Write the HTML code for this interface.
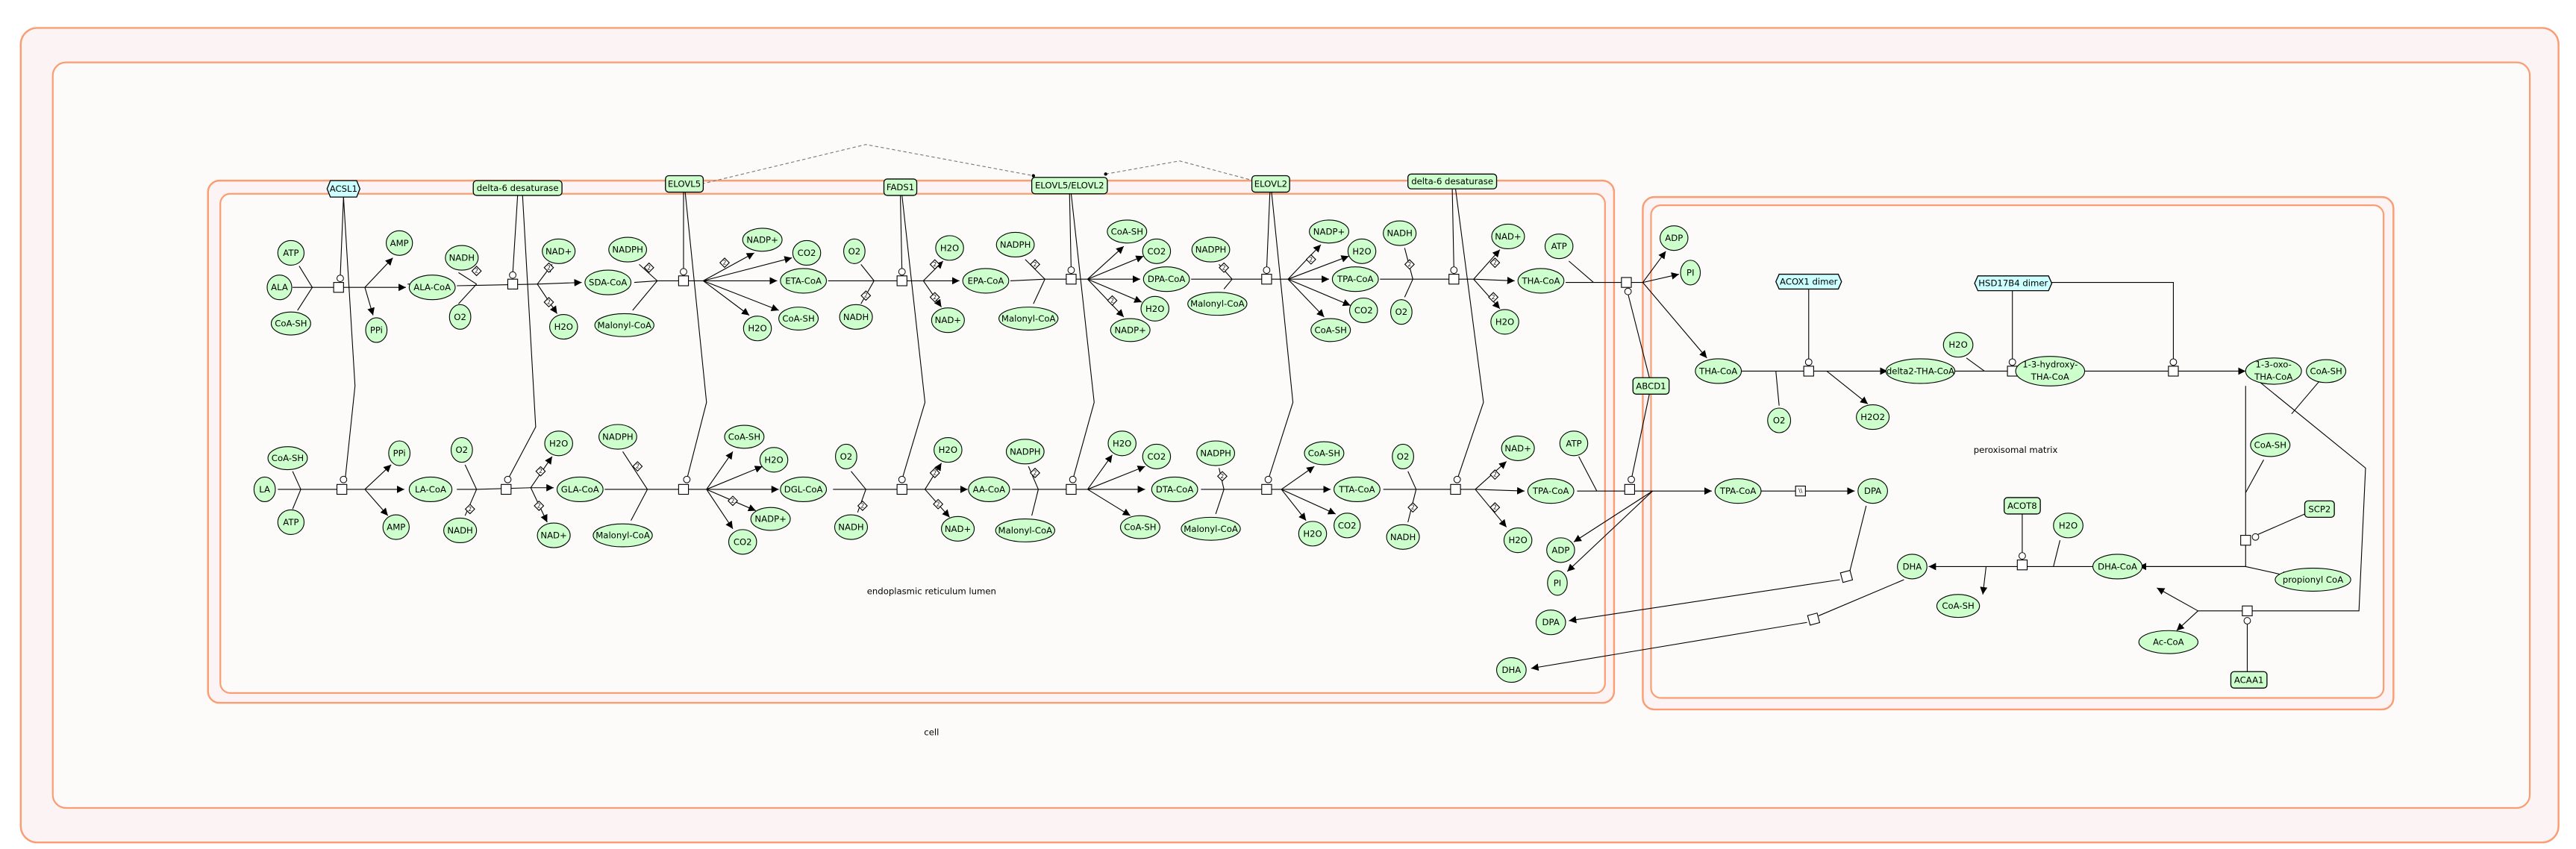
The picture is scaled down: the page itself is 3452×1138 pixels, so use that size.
<!DOCTYPE html>
<html><head><meta charset="utf-8"><style>
html,body{margin:0;padding:0;background:#fff}
svg{display:block}
text{font-family:"DejaVu Sans","Liberation Sans",sans-serif;font-size:5.3px;text-anchor:middle;dominant-baseline:central;fill:#000}
.m{fill:#ccffcc;stroke:#000;stroke-width:.5}
.e{fill:#ccffcc;stroke:#000;stroke-width:.6}
.c{fill:#ccffff;stroke:#000;stroke-width:.6}
.l{stroke:#000;stroke-width:.5;fill:none}
.a{stroke:#000;stroke-width:.5;fill:none;marker-end:url(#ar)}
.b{fill:#fff;stroke:#000;stroke-width:.5}
.o{fill:#fff;stroke:#000;stroke-width:.45}
.cp{fill:#fcf4f4;stroke:#fb9d72;stroke-width:1.1}
.ci{fill:#fdfafa;stroke:#fb9d72;stroke-width:1}
</style></head><body>
<svg width="3452" height="1138" viewBox="0 0 1568 517" xmlns="http://www.w3.org/2000/svg">
<defs><marker id="ar" viewBox="0 0 10 10" refX="10" refY="5" markerWidth="4.5" markerHeight="4.5" markerUnits="userSpaceOnUse" orient="auto"><path d="M0,0L10,5L0,10z" fill="#000"/></marker></defs>
<rect x="0" y="0" width="1568" height="517" fill="#fff"/>
<rect class="cp" x="12.5" y="17" width="1545" height="496" rx="10"/>
<rect class="ci" x="32" y="38" width="1508" height="454" rx="8"/>
<text x="567" y="446">cell</text>
<rect class="cp" x="126.5" y="110" width="856" height="318" rx="7"/>
<rect class="ci" x="134" y="118" width="843" height="304" rx="6"/>
<text x="567" y="360">endoplasmic reticulum lumen</text>
<rect class="cp" x="1000" y="120" width="457" height="312" rx="7"/>
<rect class="ci" x="1005" y="125" width="446" height="300" rx="6"/>
<text x="1227" y="274">peroxisomal matrix</text>

<polyline points="427,112 527,88 629,107" fill="none" stroke="#777" stroke-width=".5" stroke-dasharray="2,1.5"/>
<polyline points="673,106 718,98 763,110" fill="none" stroke="#777" stroke-width=".5" stroke-dasharray="2,1.5"/>
<circle cx="629" cy="107" r="1"/><circle cx="673" cy="106" r="1"/>

<g class="l">
<line x1="209" y1="120" x2="207" y2="169"/><polyline points="209,120 216,235 210,292"/>
<line x1="315" y1="119" x2="312" y2="167"/><polyline points="318,119 326,260 309,292"/>
<line x1="416" y1="117" x2="416" y2="166"/><polyline points="417,117 430,245 418,292"/>
<line x1="548" y1="119" x2="549" y2="166"/><polyline points="549,119 563,245 549,292"/>
<line x1="651" y1="118" x2="652" y2="165"/><polyline points="652,118 666,245 653,292"/>
<line x1="773" y1="117" x2="771" y2="164"/><polyline points="774,117 787,245 772,292"/>
<line x1="884" y1="115" x2="885" y2="164"/><polyline points="886,115 903,245 887,292"/>
<line x1="1004" y1="230" x2="991" y2="179"/><line x1="1004" y1="240" x2="993" y2="292"/>
<line x1="1101" y1="176" x2="1101" y2="220"/>
<line x1="1225" y1="177" x2="1225" y2="220"/><polyline points="1249,172 1323,172 1323,220"/>
<line x1="1231" y1="313" x2="1231" y2="338"/>
<line x1="1403" y1="313" x2="1371" y2="327"/>
<line x1="1368" y1="409" x2="1368" y2="378"/>
</g>

<g class="l">
<line x1="182" y1="162" x2="190" y2="175"/><line x1="181" y1="189" x2="190" y2="175"/><line x1="178" y1="175" x2="222" y2="175"/>
<line x1="248" y1="173" x2="259" y2="173"/>
<line x1="279" y1="166" x2="290" y2="173"/><line x1="279" y1="185" x2="290" y2="173"/><line x1="278" y1="174" x2="327" y2="173"/>
<line x1="386" y1="172" x2="400" y2="171"/><line x1="389" y1="161" x2="400" y2="171"/><line x1="385" y1="189" x2="400" y2="171"/><line x1="400" y1="171" x2="428" y2="171"/>
<line x1="504" y1="171" x2="532" y2="171"/><line x1="524" y1="161" x2="532" y2="171"/><line x1="524" y1="185" x2="532" y2="171"/><line x1="532" y1="171" x2="562" y2="171"/>
<line x1="615" y1="171" x2="636" y2="170"/><line x1="624" y1="158" x2="636" y2="170"/><line x1="629" y1="185" x2="636" y2="170"/><line x1="636" y1="170" x2="662" y2="170"/>
<line x1="725" y1="170" x2="750" y2="170"/><line x1="742" y1="161" x2="750" y2="170"/><line x1="745" y1="176" x2="750" y2="170"/><line x1="750" y1="170" x2="784" y2="170"/>
<line x1="840" y1="170" x2="860" y2="170"/><line x1="855" y1="151" x2="860" y2="170"/><line x1="855" y1="181" x2="860" y2="170"/><line x1="860" y1="170" x2="897" y2="170"/>
<line x1="953" y1="172" x2="1000" y2="172"/><line x1="955" y1="159" x2="970" y2="172"/>
</g>
<g class="a">
<line x1="222" y1="175" x2="247" y2="175"/><line x1="222" y1="175" x2="239" y2="157"/><line x1="222" y1="175" x2="227" y2="192"/>
<line x1="327" y1="173" x2="354" y2="172"/><line x1="327" y1="173" x2="336" y2="161"/><line x1="327" y1="173" x2="339" y2="191"/>
<line x1="428" y1="171" x2="473" y2="171"/><line x1="428" y1="171" x2="459" y2="154"/><line x1="428" y1="171" x2="482" y2="157"/><line x1="428" y1="171" x2="474" y2="189"/><line x1="428" y1="171" x2="456" y2="192"/>
<line x1="562" y1="171" x2="584" y2="171"/><line x1="562" y1="171" x2="574" y2="159"/><line x1="562" y1="171" x2="573" y2="187"/>
<line x1="662" y1="170" x2="694" y2="170"/><line x1="662" y1="170" x2="684" y2="150"/><line x1="662" y1="170" x2="696" y2="156"/><line x1="662" y1="170" x2="695" y2="184"/><line x1="662" y1="170" x2="684" y2="193"/>
<line x1="784" y1="170" x2="809" y2="170"/><line x1="784" y1="170" x2="804" y2="149"/><line x1="784" y1="170" x2="821" y2="156"/><line x1="784" y1="170" x2="822" y2="186"/><line x1="784" y1="170" x2="806" y2="193"/>
<line x1="897" y1="170" x2="922" y2="171"/><line x1="897" y1="170" x2="913" y2="152"/><line x1="897" y1="170" x2="913" y2="188"/>
<line x1="1000" y1="172" x2="1014" y2="153"/><line x1="1000" y1="172" x2="1022" y2="167"/><line x1="1000" y1="172" x2="1039" y2="218"/>
</g>

<g class="l">
<line x1="169" y1="298" x2="222" y2="298"/><line x1="178" y1="287" x2="183" y2="298"/><line x1="178" y1="310" x2="183" y2="298"/>
<line x1="278" y1="298" x2="290" y2="298"/><line x1="283" y1="283" x2="290" y2="298"/><line x1="283" y1="314" x2="290" y2="298"/><line x1="290" y1="298" x2="323" y2="297"/>
<line x1="368" y1="298" x2="394" y2="298"/><line x1="379" y1="275" x2="394" y2="298"/><line x1="384" y1="317" x2="394" y2="298"/><line x1="394" y1="298" x2="430" y2="298"/>
<line x1="507" y1="298" x2="527" y2="298"/><line x1="518" y1="287" x2="527" y2="298"/><line x1="522" y1="312" x2="527" y2="298"/><line x1="527" y1="298" x2="563" y2="298"/>
<line x1="616" y1="298" x2="632" y2="298"/><line x1="626" y1="284" x2="632" y2="298"/><line x1="628" y1="314" x2="632" y2="298"/><line x1="632" y1="298" x2="662" y2="298"/>
<line x1="731" y1="298" x2="745" y2="298"/><line x1="742" y1="285" x2="745" y2="298"/><line x1="740" y1="313" x2="745" y2="298"/><line x1="745" y1="298" x2="780" y2="298"/>
<line x1="842" y1="298" x2="862" y2="298"/><line x1="857" y1="287" x2="862" y2="298"/><line x1="857" y1="318" x2="862" y2="298"/><line x1="862" y1="298" x2="898" y2="298"/>
<line x1="960" y1="299" x2="1006" y2="299"/><line x1="961" y1="278" x2="972" y2="299"/>
</g>
<g class="a">
<line x1="222" y1="298" x2="246" y2="298"/><line x1="222" y1="298" x2="238" y2="283"/><line x1="222" y1="298" x2="236" y2="314"/>
<line x1="323" y1="297" x2="337" y2="297"/><line x1="323" y1="297" x2="336" y2="278"/><line x1="323" y1="297" x2="333" y2="318"/>
<line x1="430" y1="298" x2="474" y2="298"/><line x1="430" y1="298" x2="446" y2="275"/><line x1="430" y1="298" x2="464" y2="284"/><line x1="430" y1="298" x2="460" y2="311"/><line x1="430" y1="298" x2="446" y2="322"/>
<line x1="563" y1="298" x2="589" y2="298"/><line x1="563" y1="298" x2="573" y2="282"/><line x1="563" y1="298" x2="578" y2="315"/>
<line x1="662" y1="298" x2="697" y2="298"/><line x1="662" y1="298" x2="677" y2="277"/><line x1="662" y1="298" x2="697" y2="284"/><line x1="662" y1="298" x2="688" y2="314"/>
<line x1="780" y1="298" x2="810" y2="298"/><line x1="780" y1="298" x2="800" y2="284"/><line x1="780" y1="298" x2="813" y2="313"/><line x1="780" y1="298" x2="795" y2="317"/>
<line x1="898" y1="298" x2="928" y2="299"/><line x1="898" y1="298" x2="917" y2="281"/><line x1="898" y1="298" x2="917" y2="321"/>
<line x1="1006" y1="299" x2="1042" y2="299"/><line x1="1006" y1="299" x2="958" y2="330"/><line x1="1006" y1="299" x2="954" y2="348"/>
<line x1="1072" y1="299" x2="1129" y2="299"/>
<line x1="1120" y1="353" x2="955" y2="378"/><line x1="1100" y1="379" x2="932" y2="407"/>
</g>
<g class="l"><line x1="1136" y1="308" x2="1126" y2="348"/><line x1="1159" y1="353" x2="1107" y2="375"/></g>

<g class="l">
<line x1="1060" y1="226" x2="1112" y2="226"/><line x1="1081" y1="226" x2="1083" y2="247"/>
<line x1="1190" y1="226" x2="1208" y2="226"/><line x1="1197" y1="218" x2="1208" y2="226"/><line x1="1208" y1="226" x2="1230" y2="226"/>
<line x1="1269" y1="226" x2="1326" y2="226"/>
<line x1="1367" y1="235" x2="1367" y2="345"/><line x1="1378" y1="280" x2="1367" y2="300"/>
<polyline points="1376,233 1440,285 1436,372 1338,372"/><line x1="1412" y1="232" x2="1395" y2="252"/>
<line x1="1367" y1="345" x2="1300" y2="345"/>
<line x1="1276" y1="345" x2="1209" y2="345"/><line x1="1254" y1="329" x2="1250" y2="345"/>
</g>
<g class="a">
<line x1="1112" y1="226" x2="1149" y2="226"/><line x1="1112" y1="226" x2="1137" y2="246"/>
<line x1="1230" y1="226" x2="1227" y2="226" style="marker-end:none"/>
<line x1="1230" y1="226" x2="1227" y2="226" style="display:none"/>
<line x1="1232" y1="226" x2="1227" y2="226" style="display:none"/>
<line x1="1326" y1="226" x2="1367" y2="226"/>
<line x1="1367" y1="345" x2="1302" y2="345"/><line x1="1367" y1="345" x2="1394" y2="351"/>
<line x1="1338" y1="372" x2="1313" y2="358"/><line x1="1338" y1="372" x2="1325" y2="384"/>
<line x1="1209" y1="345" x2="1174" y2="345"/><line x1="1209" y1="345" x2="1207" y2="362"/>
</g>
<line class="a" x1="1232" y1="226" x2="1227" y2="226" style="display:none"/>
<line class="l" x1="1226" y1="226" x2="1236" y2="226"/>
<line class="a" x1="1236" y1="226" x2="1227.5" y2="226" style="display:none"/>
<line class="a" x1="1236" y1="226" x2="1226" y2="226" style="display:none"/>
<line class="a" x1="1236" y1="226" x2="1227" y2="226" style="display:none"/>
<line class="a" x1="1234" y1="226" x2="1227" y2="226" style="display:none"/>
<line class="a" x1="1231" y1="226" x2="1226" y2="226" style="display:none"/>

<g>
<rect class="b" x="203" y="172" width="6" height="6"/><circle class="o" cx="207" cy="169.5" r="2"/>
<rect class="b" x="309" y="170" width="6" height="6"/><circle class="o" cx="312" cy="167.5" r="2"/>
<rect class="b" x="413" y="168" width="6" height="6"/><circle class="o" cx="416" cy="165.5" r="2"/>
<rect class="b" x="546" y="168" width="6" height="6"/><circle class="o" cx="549" cy="165.5" r="2"/>
<rect class="b" x="649" y="167" width="6" height="6"/><circle class="o" cx="652" cy="164.5" r="2"/>
<rect class="b" x="768" y="167" width="6" height="6"/><circle class="o" cx="771" cy="164.5" r="2"/>
<rect class="b" x="882" y="167" width="6" height="6"/><circle class="o" cx="885" cy="164.5" r="2"/>
<rect class="b" x="987" y="169" width="6" height="6"/><circle class="o" cx="991" cy="177.5" r="2"/>
<rect class="b" x="205" y="295" width="6" height="6"/><circle class="o" cx="209" cy="292" r="2"/>
<rect class="b" x="305" y="295" width="6" height="6"/><circle class="o" cx="309" cy="292" r="2"/>
<rect class="b" x="413" y="295" width="6" height="6"/><circle class="o" cx="418" cy="292" r="2"/>
<rect class="b" x="546" y="295" width="6" height="6"/><circle class="o" cx="549" cy="292" r="2"/>
<rect class="b" x="649" y="295" width="6" height="6"/><circle class="o" cx="653" cy="292" r="2"/>
<rect class="b" x="768" y="295" width="6" height="6"/><circle class="o" cx="772" cy="292" r="2"/>
<rect class="b" x="883" y="295" width="6" height="6"/><circle class="o" cx="887" cy="292" r="2"/>
<rect class="b" x="989" y="295" width="6" height="6"/><circle class="o" cx="993" cy="292" r="2"/>
<rect class="b" x="1093" y="296" width="6" height="6"/><text x="1096" y="299" style="font-size:3.5px">\\</text>
<rect class="b" x="1121" y="348" width="6" height="6" transform="rotate(-15 1124 351)"/>
<rect class="b" x="1101" y="374" width="6" height="6" transform="rotate(-15 1104 377)"/>
<rect class="b" x="1098" y="223" width="6" height="6"/><circle class="o" cx="1101" cy="220.5" r="2"/>
<rect class="b" x="1222" y="223" width="6" height="6"/><circle class="o" cx="1225" cy="220.5" r="2"/>
<rect class="b" x="1320" y="223" width="6" height="6"/><circle class="o" cx="1323" cy="220.5" r="2"/>
<rect class="b" x="1228" y="341" width="6" height="6"/><circle class="o" cx="1231" cy="338.5" r="2"/>
<rect class="b" x="1364" y="326" width="6" height="6"/><circle class="o" cx="1373" cy="327" r="2"/>
<rect class="b" x="1365" y="369" width="6" height="6"/><circle class="o" cx="1368" cy="378" r="2"/>
</g>
<line class="a" x1="1236" y1="226" x2="1227" y2="226" style="display:none"/>
<line class="a" x1="1228" y1="226" x2="1227" y2="226" style="display:none"/>
<line class="a" x1="1228" y1="226" x2="1227" y2="226" style="display:none"/>
<line class="a" x1="1228" y1="226" x2="1227" y2="226" style="display:none"/>
<line class="a" x1="1228" y1="226" x2="1227" y2="226" style="display:none"/>
<line class="a" x1="1228" y1="226" x2="1228" y2="226" style="display:none"/>
<line class="a" x1="1228" y1="226" x2="1227" y2="226" style="display:none"/>
<line class="a" x1="1228" y1="226" x2="1227" y2="226" style="display:none"/>
<line class="a" x1="1228" y1="226" x2="1227" y2="226" style="display:none"/>
<line class="a" x1="1228" y1="226" x2="1227" y2="226" style="display:none"/>
<line class="a" x1="1228" y1="226" x2="1227" y2="226" style="display:none"/>
<line class="a" x1="1228" y1="226" x2="1227" y2="226" style="display:none"/>
<line class="a" x1="1228" y1="226" x2="1227" y2="226" style="display:none"/>
<line class="a" x1="1228" y1="226" x2="1227" y2="226" style="display:none"/>
<line class="a" x1="1228" y1="226" x2="1227" y2="226" style="display:none"/>
<line class="a" x1="1228" y1="226" x2="1227" y2="226" style="display:none"/>
<line class="a" x1="1228" y1="226" x2="1227" y2="226" style="display:none"/>
<line class="a" x1="1228" y1="226" x2="1262" y2="226"/>

<g>
<g transform="translate(290,165) rotate(45)"><rect class="b" x="-2" y="-2" width="4" height="4"/></g><text x="290" y="165" style="font-size:3.4px">2</text>
<g transform="translate(334,163) rotate(45)"><rect class="b" x="-2" y="-2" width="4" height="4"/></g><text x="334" y="163" style="font-size:3.4px">2</text>
<g transform="translate(334,184) rotate(45)"><rect class="b" x="-2" y="-2" width="4" height="4"/></g><text x="334" y="184" style="font-size:3.4px">2</text>
<g transform="translate(395,163) rotate(45)"><rect class="b" x="-2" y="-2" width="4" height="4"/></g><text x="395" y="163" style="font-size:3.4px">2</text>
<g transform="translate(441,160) rotate(45)"><rect class="b" x="-2" y="-2" width="4" height="4"/></g><text x="441" y="160" style="font-size:3.4px">2</text>
<g transform="translate(527,180) rotate(45)"><rect class="b" x="-2" y="-2" width="4" height="4"/></g><text x="527" y="180" style="font-size:3.4px">2</text>
<g transform="translate(569,161) rotate(45)"><rect class="b" x="-2" y="-2" width="4" height="4"/></g><text x="569" y="161" style="font-size:3.4px">2</text>
<g transform="translate(569,181) rotate(45)"><rect class="b" x="-2" y="-2" width="4" height="4"/></g><text x="569" y="181" style="font-size:3.4px">2</text>
<g transform="translate(630,161) rotate(45)"><rect class="b" x="-2" y="-2" width="4" height="4"/></g><text x="630" y="161" style="font-size:3.4px">2</text>
<g transform="translate(677,183) rotate(45)"><rect class="b" x="-2" y="-2" width="4" height="4"/></g><text x="677" y="183" style="font-size:3.4px">2</text>
<g transform="translate(745,163) rotate(45)"><rect class="b" x="-2" y="-2" width="4" height="4"/></g><text x="745" y="163" style="font-size:3.4px">2</text>
<g transform="translate(798,158) rotate(45)"><rect class="b" x="-2" y="-2" width="4" height="4"/></g><text x="798" y="158" style="font-size:3.4px">2</text>
<g transform="translate(858,161) rotate(45)"><rect class="b" x="-2" y="-2" width="4" height="4"/></g><text x="858" y="161" style="font-size:3.4px">2</text>
<g transform="translate(910,160) rotate(45)"><rect class="b" x="-2" y="-2" width="4" height="4"/></g><text x="910" y="160" style="font-size:3.4px">2</text>
<g transform="translate(909,181) rotate(45)"><rect class="b" x="-2" y="-2" width="4" height="4"/></g><text x="909" y="181" style="font-size:3.4px">2</text>
<g transform="translate(286,310) rotate(45)"><rect class="b" x="-2" y="-2" width="4" height="4"/></g><text x="286" y="310" style="font-size:3.4px">2</text>
<g transform="translate(329,287) rotate(45)"><rect class="b" x="-2" y="-2" width="4" height="4"/></g><text x="329" y="287" style="font-size:3.4px">2</text>
<g transform="translate(328,308) rotate(45)"><rect class="b" x="-2" y="-2" width="4" height="4"/></g><text x="328" y="308" style="font-size:3.4px">2</text>
<g transform="translate(388,284) rotate(45)"><rect class="b" x="-2" y="-2" width="4" height="4"/></g><text x="388" y="284" style="font-size:3.4px">2</text>
<g transform="translate(446,305) rotate(45)"><rect class="b" x="-2" y="-2" width="4" height="4"/></g><text x="446" y="305" style="font-size:3.4px">2</text>
<g transform="translate(525,308) rotate(45)"><rect class="b" x="-2" y="-2" width="4" height="4"/></g><text x="525" y="308" style="font-size:3.4px">2</text>
<g transform="translate(569,288) rotate(45)"><rect class="b" x="-2" y="-2" width="4" height="4"/></g><text x="569" y="288" style="font-size:3.4px">2</text>
<g transform="translate(571,307) rotate(45)"><rect class="b" x="-2" y="-2" width="4" height="4"/></g><text x="571" y="307" style="font-size:3.4px">2</text>
<g transform="translate(630,288) rotate(45)"><rect class="b" x="-2" y="-2" width="4" height="4"/></g><text x="630" y="288" style="font-size:3.4px">2</text>
<g transform="translate(744,290) rotate(45)"><rect class="b" x="-2" y="-2" width="4" height="4"/></g><text x="744" y="290" style="font-size:3.4px">2</text>
<g transform="translate(860,309) rotate(45)"><rect class="b" x="-2" y="-2" width="4" height="4"/></g><text x="860" y="309" style="font-size:3.4px">2</text>
<g transform="translate(910,289) rotate(45)"><rect class="b" x="-2" y="-2" width="4" height="4"/></g><text x="910" y="289" style="font-size:3.4px">2</text>
<g transform="translate(910,309) rotate(45)"><rect class="b" x="-2" y="-2" width="4" height="4"/></g><text x="910" y="309" style="font-size:3.4px">2</text>
</g>

<polygon class="c" points="201,110 217,110 219,115 217,120 201,120 199,115"/><text x="209" y="115">ACSL1</text>
<rect class="e" x="288" y="110" width="54" height="9" rx="2"/><text x="315" y="114.5">delta-6 desaturase</text>
<rect class="e" x="405" y="107" width="23" height="10" rx="2"/><text x="416.5" y="112">ELOVL5</text>
<rect class="e" x="538" y="109" width="20" height="10" rx="2"/><text x="548" y="114">FADS1</text>
<rect class="e" x="628" y="108" width="46" height="10" rx="2"/><text x="651" y="113">ELOVL5/ELOVL2</text>
<rect class="e" x="762" y="107" width="23" height="10" rx="2"/><text x="773.5" y="112">ELOVL2</text>
<rect class="e" x="857" y="106" width="54" height="9" rx="2"/><text x="884" y="110.5">delta-6 desaturase</text>
<rect class="e" x="994" y="230" width="22" height="10" rx="2"/><text x="1005" y="235">ABCD1</text>
<polygon class="c" points="1083,167 1119,167 1121,171.5 1119,176 1083,176 1081,171.5"/><text x="1101" y="171.5">ACOX1 dimer</text>
<polygon class="c" points="1204,168 1247,168 1249,172.5 1247,177 1204,177 1202,172.5"/><text x="1225.5" y="172.5">HSD17B4 dimer</text>
<rect class="e" x="1220" y="303" width="22" height="10" rx="2"/><text x="1231" y="308">ACOT8</text>
<rect class="e" x="1403" y="305" width="18" height="10" rx="2"/><text x="1412" y="310">SCP2</text>
<rect class="e" x="1358" y="409" width="22" height="10" rx="2"/><text x="1369" y="414">ACAA1</text>

<g>
<ellipse class="m" cx="177" cy="154" rx="8" ry="7.5"/><text x="177" y="154">ATP</text>
<ellipse class="m" cx="170" cy="175" rx="7.5" ry="7.5"/><text x="170" y="175">ALA</text>
<ellipse class="m" cx="177" cy="197" rx="12" ry="7"/><text x="177" y="197">CoA-SH</text>
<ellipse class="m" cx="243" cy="148" rx="8" ry="7.5"/><text x="243" y="148">AMP</text>
<ellipse class="m" cx="229" cy="201" rx="6.5" ry="7.5"/><text x="229" y="201">PPi</text>
<ellipse class="m" cx="263" cy="175" rx="14" ry="7.5"/><text x="263" y="175">ALA-CoA</text>
<ellipse class="m" cx="281" cy="157" rx="10" ry="7.5"/><text x="281" y="157">NADH</text>
<ellipse class="m" cx="280" cy="193" rx="6.5" ry="7.5"/><text x="280" y="193">O2</text>
<ellipse class="m" cx="340" cy="153" rx="10" ry="7.5"/><text x="340" y="153">NAD+</text>
<ellipse class="m" cx="343" cy="199" rx="8.5" ry="7.5"/><text x="343" y="199">H2O</text>
<ellipse class="m" cx="370" cy="172" rx="14" ry="7.5"/><text x="370" y="172">SDA-CoA</text>
<ellipse class="m" cx="382" cy="152" rx="11.5" ry="7.5"/><text x="382" y="152">NADPH</text>
<ellipse class="m" cx="380" cy="198" rx="18" ry="7"/><text x="380" y="198">Malonyl-CoA</text>
<ellipse class="m" cx="464" cy="146" rx="12" ry="7"/><text x="464" y="146">NADP+</text>
<ellipse class="m" cx="491" cy="154" rx="8.5" ry="7.5"/><text x="491" y="154">CO2</text>
<ellipse class="m" cx="489" cy="171" rx="14" ry="7.5"/><text x="489" y="171">ETA-CoA</text>
<ellipse class="m" cx="486" cy="194" rx="12" ry="7"/><text x="486" y="194">CoA-SH</text>
<ellipse class="m" cx="461" cy="200" rx="8.5" ry="7.5"/><text x="461" y="200">H2O</text>
<ellipse class="m" cx="520" cy="153" rx="6.5" ry="7.5"/><text x="520" y="153">O2</text>
<ellipse class="m" cx="521" cy="193" rx="10" ry="7.5"/><text x="521" y="193">NADH</text>
<ellipse class="m" cx="578" cy="151" rx="8.5" ry="7.5"/><text x="578" y="151">H2O</text>
<ellipse class="m" cx="577" cy="195" rx="10" ry="7.5"/><text x="577" y="195">NAD+</text>
<ellipse class="m" cx="600" cy="171" rx="14" ry="7.5"/><text x="600" y="171">EPA-CoA</text>
<ellipse class="m" cx="618" cy="149" rx="11.5" ry="7.5"/><text x="618" y="149">NADPH</text>
<ellipse class="m" cx="626" cy="194" rx="18" ry="7"/><text x="626" y="194">Malonyl-CoA</text>
<ellipse class="m" cx="686" cy="141" rx="12" ry="7"/><text x="686" y="141">CoA-SH</text>
<ellipse class="m" cx="704" cy="153" rx="8.5" ry="7.5"/><text x="704" y="153">CO2</text>
<ellipse class="m" cx="710" cy="170" rx="14" ry="7.5"/><text x="710" y="170">DPA-CoA</text>
<ellipse class="m" cx="703" cy="188" rx="8.5" ry="7.5"/><text x="703" y="188">H2O</text>
<ellipse class="m" cx="688" cy="201" rx="12" ry="7"/><text x="688" y="201">NADP+</text>
<ellipse class="m" cx="737" cy="152" rx="11.5" ry="7.5"/><text x="737" y="152">NADPH</text>
<ellipse class="m" cx="741" cy="185" rx="18" ry="7"/><text x="741" y="185">Malonyl-CoA</text>
<ellipse class="m" cx="809" cy="141" rx="12" ry="7"/><text x="809" y="141">NADP+</text>
<ellipse class="m" cx="829" cy="153" rx="8.5" ry="7.5"/><text x="829" y="153">H2O</text>
<ellipse class="m" cx="825" cy="170" rx="14" ry="7.5"/><text x="825" y="170">TPA-CoA</text>
<ellipse class="m" cx="830" cy="189" rx="8.5" ry="7.5"/><text x="830" y="189">CO2</text>
<ellipse class="m" cx="810" cy="201" rx="12" ry="7"/><text x="810" y="201">CoA-SH</text>
<ellipse class="m" cx="852" cy="142" rx="10" ry="7.5"/><text x="852" y="142">NADH</text>
<ellipse class="m" cx="853" cy="190" rx="6.5" ry="7.5"/><text x="853" y="190">O2</text>
<ellipse class="m" cx="918" cy="144" rx="10" ry="7.5"/><text x="918" y="144">NAD+</text>
<ellipse class="m" cx="938" cy="171" rx="14" ry="7.5"/><text x="938" y="171">THA-CoA</text>
<ellipse class="m" cx="916" cy="196" rx="8.5" ry="7.5"/><text x="916" y="196">H2O</text>
<ellipse class="m" cx="949" cy="150" rx="8.5" ry="7.5"/><text x="949" y="150">ATP</text>
<ellipse class="m" cx="1019" cy="145" rx="8.5" ry="7.5"/><text x="1019" y="145">ADP</text>
<ellipse class="m" cx="1029" cy="166" rx="6" ry="7.5"/><text x="1029" y="166">PI</text>

<ellipse class="m" cx="175" cy="279" rx="12" ry="7"/><text x="175" y="279">CoA-SH</text>
<ellipse class="m" cx="161" cy="298" rx="6.5" ry="7.5"/><text x="161" y="298">LA</text>
<ellipse class="m" cx="177" cy="318" rx="8" ry="7.5"/><text x="177" y="318">ATP</text>
<ellipse class="m" cx="243" cy="276" rx="6.5" ry="7.5"/><text x="243" y="276">PPi</text>
<ellipse class="m" cx="241" cy="321" rx="8" ry="7.5"/><text x="241" y="321">AMP</text>
<ellipse class="m" cx="262" cy="298" rx="13" ry="7.5"/><text x="262" y="298">LA-CoA</text>
<ellipse class="m" cx="281" cy="274" rx="6.5" ry="7.5"/><text x="281" y="274">O2</text>
<ellipse class="m" cx="280" cy="323" rx="10" ry="7.5"/><text x="280" y="323">NADH</text>
<ellipse class="m" cx="340" cy="270" rx="8.5" ry="7.5"/><text x="340" y="270">H2O</text>
<ellipse class="m" cx="337" cy="326" rx="10" ry="7.5"/><text x="337" y="326">NAD+</text>
<ellipse class="m" cx="353" cy="298" rx="14" ry="7.5"/><text x="353" y="298">GLA-CoA</text>
<ellipse class="m" cx="376" cy="266" rx="11.5" ry="7.5"/><text x="376" y="266">NADPH</text>
<ellipse class="m" cx="379" cy="326" rx="18" ry="7"/><text x="379" y="326">Malonyl-CoA</text>
<ellipse class="m" cx="453" cy="266" rx="12" ry="7"/><text x="453" y="266">CoA-SH</text>
<ellipse class="m" cx="471" cy="280" rx="8.5" ry="7.5"/><text x="471" y="280">H2O</text>
<ellipse class="m" cx="489" cy="298" rx="14" ry="7.5"/><text x="489" y="298">DGL-CoA</text>
<ellipse class="m" cx="469" cy="316" rx="12" ry="7"/><text x="469" y="316">NADP+</text>
<ellipse class="m" cx="452" cy="330" rx="8.5" ry="7.5"/><text x="452" y="330">CO2</text>
<ellipse class="m" cx="515" cy="278" rx="6.5" ry="7.5"/><text x="515" y="278">O2</text>
<ellipse class="m" cx="518" cy="321" rx="10" ry="7.5"/><text x="518" y="321">NADH</text>
<ellipse class="m" cx="577" cy="274" rx="8.5" ry="7.5"/><text x="577" y="274">H2O</text>
<ellipse class="m" cx="583" cy="322" rx="10" ry="7.5"/><text x="583" y="322">NAD+</text>
<ellipse class="m" cx="602" cy="298" rx="12.5" ry="7.5"/><text x="602" y="298">AA-CoA</text>
<ellipse class="m" cx="624" cy="275" rx="11.5" ry="7.5"/><text x="624" y="275">NADPH</text>
<ellipse class="m" cx="624" cy="323" rx="18" ry="7"/><text x="624" y="323">Malonyl-CoA</text>
<ellipse class="m" cx="683" cy="270" rx="8.5" ry="7.5"/><text x="683" y="270">H2O</text>
<ellipse class="m" cx="704" cy="278" rx="8.5" ry="7.5"/><text x="704" y="278">CO2</text>
<ellipse class="m" cx="715" cy="298" rx="14" ry="7.5"/><text x="715" y="298">DTA-CoA</text>
<ellipse class="m" cx="694" cy="321" rx="12" ry="7"/><text x="694" y="321">CoA-SH</text>
<ellipse class="m" cx="740" cy="276" rx="11.5" ry="7.5"/><text x="740" y="276">NADPH</text>
<ellipse class="m" cx="737" cy="322" rx="18" ry="7"/><text x="737" y="322">Malonyl-CoA</text>
<ellipse class="m" cx="806" cy="276" rx="12" ry="7"/><text x="806" y="276">CoA-SH</text>
<ellipse class="m" cx="826" cy="298" rx="14" ry="7.5"/><text x="826" y="298">TTA-CoA</text>
<ellipse class="m" cx="820" cy="320" rx="8" ry="7.5"/><text x="820" y="320">CO2</text>
<ellipse class="m" cx="799" cy="325" rx="8.5" ry="7.5"/><text x="799" y="325">H2O</text>
<ellipse class="m" cx="854" cy="278" rx="6.5" ry="7.5"/><text x="854" y="278">O2</text>
<ellipse class="m" cx="854" cy="327" rx="10" ry="7.5"/><text x="854" y="327">NADH</text>
<ellipse class="m" cx="924" cy="273" rx="10" ry="7.5"/><text x="924" y="273">NAD+</text>
<ellipse class="m" cx="944" cy="299" rx="14" ry="7.5"/><text x="944" y="299">TPA-CoA</text>
<ellipse class="m" cx="924" cy="329" rx="8.5" ry="7.5"/><text x="924" y="329">H2O</text>
<ellipse class="m" cx="958" cy="270" rx="8.5" ry="7.5"/><text x="958" y="270">ATP</text>
<ellipse class="m" cx="950" cy="335" rx="8.5" ry="7.5"/><text x="950" y="335">ADP</text>
<ellipse class="m" cx="948" cy="355" rx="6" ry="7.5"/><text x="948" y="355">PI</text>
<ellipse class="m" cx="944" cy="379" rx="9" ry="7.5"/><text x="944" y="379">DPA</text>
<ellipse class="m" cx="920" cy="408" rx="9" ry="7.5"/><text x="920" y="408">DHA</text>

<ellipse class="m" cx="1046" cy="226" rx="14" ry="7.5"/><text x="1046" y="226">THA-CoA</text>
<ellipse class="m" cx="1083" cy="256" rx="7" ry="7.5"/><text x="1083" y="256">O2</text>
<ellipse class="m" cx="1140" cy="254" rx="10" ry="7.5"/><text x="1140" y="254">H2O2</text>
<ellipse class="m" cx="1169" cy="226" rx="21" ry="7.5"/><text x="1169" y="226">delta2-THA-CoA</text>
<ellipse class="m" cx="1192" cy="210" rx="9" ry="7.5"/><text x="1192" y="210">H2O</text>
<ellipse class="m" cx="1248" cy="226" rx="21" ry="9"/><text x="1248" y="222">1-3-hydroxy-</text><text x="1248" y="229.5">THA-CoA</text>
<ellipse class="m" cx="1384" cy="226" rx="17" ry="8"/><text x="1384" y="222">1-3-oxo-</text><text x="1384" y="229.5">THA-CoA</text>
<ellipse class="m" cx="1416" cy="226" rx="12" ry="7"/><text x="1416" y="226">CoA-SH</text>
<ellipse class="m" cx="1382" cy="271" rx="12" ry="7"/><text x="1382" y="271">CoA-SH</text>
<ellipse class="m" cx="1058" cy="299" rx="14" ry="7.5"/><text x="1058" y="299">TPA-CoA</text>
<ellipse class="m" cx="1140" cy="299" rx="9" ry="7.5"/><text x="1140" y="299">DPA</text>
<ellipse class="m" cx="1164" cy="345" rx="9" ry="7.5"/><text x="1164" y="345">DHA</text>
<ellipse class="m" cx="1192" cy="369" rx="13" ry="7"/><text x="1192" y="369">CoA-SH</text>
<ellipse class="m" cx="1259" cy="320" rx="9" ry="7.5"/><text x="1259" y="320">H2O</text>
<ellipse class="m" cx="1289" cy="345" rx="15" ry="7.5"/><text x="1289" y="345">DHA-CoA</text>
<ellipse class="m" cx="1408" cy="353" rx="23" ry="7"/><text x="1408" y="353">propionyl CoA</text>
<ellipse class="m" cx="1320" cy="391" rx="18" ry="7"/><text x="1320" y="391">Ac-CoA</text>
</g>
</svg>
</body></html>
